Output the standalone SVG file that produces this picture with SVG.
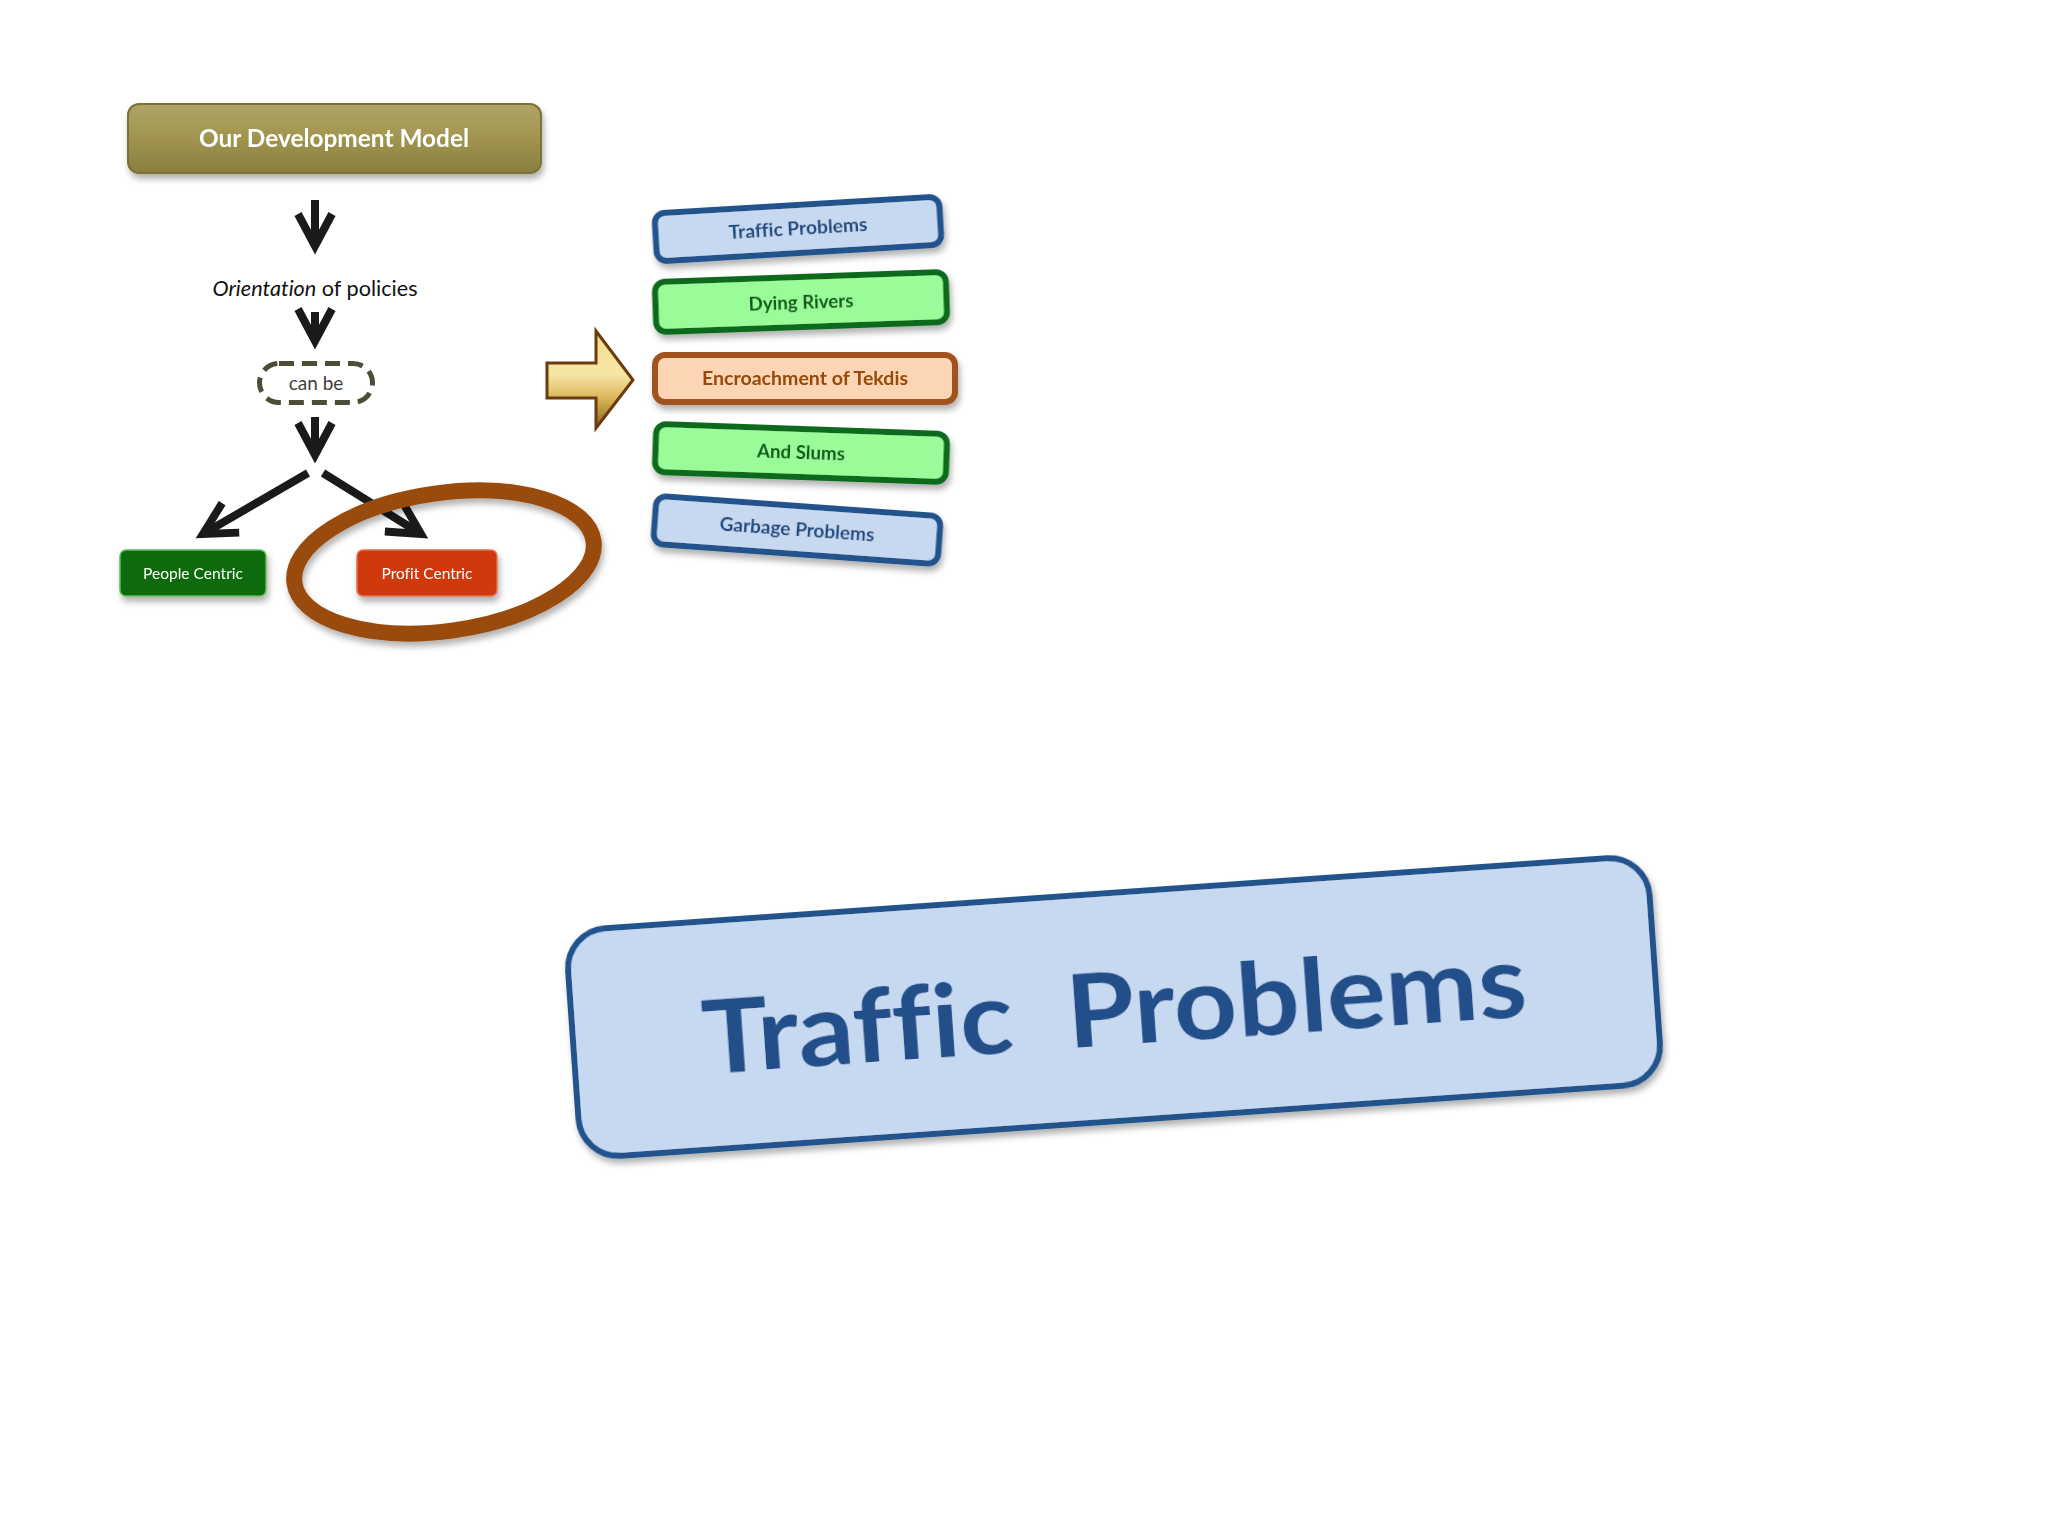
<svg xmlns="http://www.w3.org/2000/svg" width="2048" height="1536" viewBox="0 0 2048 1536">
<defs>
<style>
.lbl{font-family:Lato,"Open Sans","Liberation Sans",sans-serif;text-anchor:middle;font-variant-ligatures:none}
.b{font-weight:bold}
.blueBox{fill:#c6d9f1;stroke:#23538d;stroke-width:6}
.greenBox{fill:#99fc99;stroke:#0b6b1b;stroke-width:6}
.orangeBox{fill:#fcd5b4;stroke:#a0521a;stroke-width:6}
.blueTxt{fill:#1f497d}
.greenTxt{fill:#0a5a14}
.orangeTxt{fill:#984807}
.arrow{fill:none;stroke:#1a1a1a;stroke-width:8;stroke-linecap:butt;marker-end:url(#vhead)}
</style>
<filter id="sh" x="-10%" y="-20%" width="130%" height="160%">
<feDropShadow dx="2" dy="5" stdDeviation="3" flood-color="#000" flood-opacity="0.3"/>
</filter>
<marker id="vhead" markerUnits="userSpaceOnUse" orient="auto" refX="0" refY="0" markerWidth="60" markerHeight="60" viewBox="-45 -30 60 60" overflow="visible">
<path d="M-32,-17 L0,0 L-32,17" fill="none" stroke="#1a1a1a" stroke-width="8" stroke-linejoin="miter" stroke-miterlimit="10"/>
</marker>
<linearGradient id="olive" x1="0" y1="0" x2="0" y2="1">
<stop offset="0" stop-color="#b0a566"/>
<stop offset="0.5" stop-color="#a0944f"/>
<stop offset="1" stop-color="#8a7e3f"/>
</linearGradient>
<linearGradient id="gold" x1="0" y1="0" x2="0" y2="1">
<stop offset="0" stop-color="#f3dd8a"/>
<stop offset="0.45" stop-color="#f6e6a6"/>
<stop offset="0.7" stop-color="#d9b455"/>
<stop offset="1" stop-color="#8a6420"/>
</linearGradient>
</defs>
<rect width="2048" height="1536" fill="#ffffff"/>

<g id="development-model" filter="url(#sh)">
<rect x="128" y="104" width="413" height="69" rx="11" fill="url(#olive)" stroke="#7d7238" stroke-width="2"/>
<text class="lbl b" x="334" y="147" font-size="24" fill="#ffffff" textLength="270" lengthAdjust="spacingAndGlyphs">Our Development Model</text>
</g>

<g id="orientation">
<text class="lbl" x="315" y="296" font-size="21" fill="#111111" textLength="205" lengthAdjust="spacingAndGlyphs"><tspan font-style="italic">Orientation</tspan> of policies</text>
</g>

<g id="can-be">
<rect x="259.5" y="363.5" width="113" height="39" rx="19.5" fill="#ffffff" stroke="#4d4d38" stroke-width="5" stroke-dasharray="15 8"/>
<text class="lbl" x="316" y="390" font-size="19" fill="#404040">can be</text>
</g>

<g id="people-centric" filter="url(#sh)">
<rect x="120" y="550" width="146" height="46" rx="6" fill="#0b6b0b" stroke="#5cbf5c" stroke-width="1.5"/>
<text class="lbl" x="193" y="579" font-size="16" fill="#ffffff" textLength="100" lengthAdjust="spacingAndGlyphs">People Centric</text>
</g>

<g id="profit-centric" filter="url(#sh)">
<rect x="357" y="550" width="140" height="46" rx="6" fill="#d0380b" stroke="#e2724f" stroke-width="1.5"/>
<text class="lbl" x="427" y="579" font-size="16" fill="#ffffff" textLength="91" lengthAdjust="spacingAndGlyphs">Profit Centric</text>
</g>

<g id="connectors">
<path class="arrow" d="M315,200 V246"/>
<path class="arrow" d="M315,312 V341"/>
<path class="arrow" d="M315,417 V455"/>
<path class="arrow" d="M308,473 L203,534"/>
<path class="arrow" d="M323,473 L421,534"/>
<polygon points="547,363 596,363 596,331 633,380 596,428 596,398 547,398" fill="url(#gold)" stroke="#6b3a0f" stroke-width="3" stroke-linejoin="miter"/>
</g>

<g id="highlight-ellipse" filter="url(#sh)">
<ellipse cx="444" cy="562" rx="151" ry="69" transform="rotate(-8 444 562)" fill="none" stroke="#994c0f" stroke-width="16"/>
</g>

<g id="traffic-problems-small" filter="url(#sh)" transform="rotate(-3.4 798 229)">
<rect class="blueBox" x="655.5" y="205" width="285" height="48" rx="10"/>
<text class="lbl b blueTxt" x="798" y="235" font-size="18" textLength="139" lengthAdjust="spacingAndGlyphs">Traffic Problems</text>
</g>

<g id="dying-rivers" filter="url(#sh)" transform="rotate(-2 801 302)">
<rect class="greenBox" x="655.5" y="277" width="291" height="50" rx="10"/>
<text class="lbl b greenTxt" x="801" y="309" font-size="18" textLength="105" lengthAdjust="spacingAndGlyphs">Dying Rivers</text>
</g>

<g id="encroachment" filter="url(#sh)">
<rect class="orangeBox" x="655" y="355" width="300" height="47" rx="10"/>
<text class="lbl b orangeTxt" x="805" y="385" font-size="18" textLength="206" lengthAdjust="spacingAndGlyphs">Encroachment of Tekdis</text>
</g>

<g id="and-slums" filter="url(#sh)" transform="rotate(2 801 453)">
<rect class="greenBox" x="655.5" y="429" width="291" height="48" rx="10"/>
<text class="lbl b greenTxt" x="801" y="459" font-size="18" textLength="88" lengthAdjust="spacingAndGlyphs">And Slums</text>
</g>

<g id="garbage-problems" filter="url(#sh)" transform="rotate(4.1 797 530)">
<rect class="blueBox" x="654.5" y="506" width="285" height="48" rx="10"/>
<text class="lbl b blueTxt" x="797" y="536" font-size="18" textLength="155" lengthAdjust="spacingAndGlyphs">Garbage Problems</text>
</g>

<g id="traffic-problems-large" filter="url(#sh)" transform="rotate(-4 1114 1007)">
<rect class="blueBox" x="572" y="893" width="1084" height="228" rx="40" stroke-width="7"/>
<text class="lbl b" x="1114" y="1045" font-size="102" fill="#21508a" textLength="826" lengthAdjust="spacingAndGlyphs" xml:space="preserve">Traffic  Problems</text>
</g>
</svg>
